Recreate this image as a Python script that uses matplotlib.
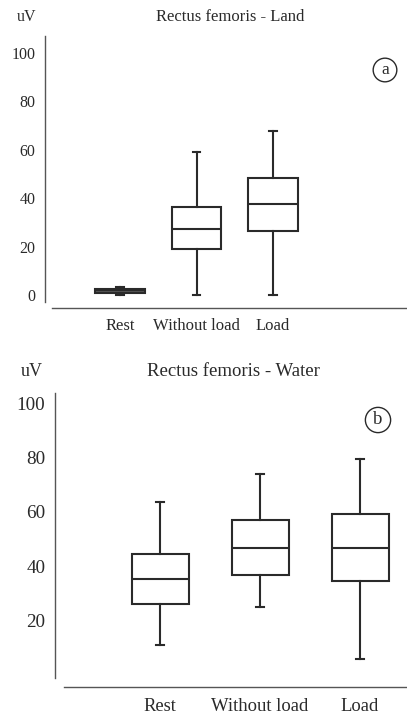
import matplotlib.pyplot as plt

plt.rcParams['font.family'] = ['Liberation Serif', 'DejaVu Serif']

groups = ["Rest", "Without load", "Load"]

# panel a - land
land_q1 = [0.8, 18.9, 26.6]
land_med = [2.0, 27.4, 37.6]
land_q3 = [2.6, 36.2, 48.5]
land_lo = [0.0, 0.0, 0.0]
land_hi = [3.4, 59.2, 67.6]

# panel b - water
water_q1 = [26.3, 36.6, 34.4]
water_med = [35.2, 46.8, 46.8]
water_q3 = [44.6, 57.1, 59.2]
water_lo = [11.1, 25.0, 5.9]
water_hi = [63.5, 74.1, 79.5]

yticks_a = [0, 20, 40, 60, 80, 100]
yticks_b = [20, 40, 60, 80, 100]

ink = "#2a2a2a"
axcol = "#555555"


def make_stats(q1, med, q3, lo, hi):
    out = []
    for i in range(len(groups)):
        out.append(dict(q1=q1[i], med=med[i], q3=q3[i], whislo=lo[i],
                        whishi=hi[i], fliers=[], label=groups[i]))
    return out


def panel(ax, stats, width, capw, ylim, ybounds, xlim, xstart, yticks, fs, fsx, padx, pady, fills):
    b = ax.bxp(stats, positions=[1, 2, 3], widths=width, capwidths=capw,
               showfliers=False, patch_artist=True,
               boxprops=dict(edgecolor=ink, linewidth=1.5),
               medianprops=dict(color=ink, linewidth=1.5),
               whiskerprops=dict(color=ink, linewidth=1.5),
               capprops=dict(color=ink, linewidth=1.5))
    for p, c in zip(b['boxes'], fills):
        p.set_facecolor(c)
    ax.set_xlim(*xlim)
    ax.set_ylim(*ylim)
    for s in ['top', 'right']:
        ax.spines[s].set_visible(False)
    ax.spines['left'].set_bounds(*ybounds)
    ax.spines['bottom'].set_bounds(xstart, xlim[1])
    for s in ['left', 'bottom']:
        ax.spines[s].set_color(axcol)
        ax.spines[s].set_linewidth(1.0)
    ax.set_yticks(yticks)
    ax.tick_params(axis='y', length=0, pad=pady, labelsize=fs, colors=ink)
    ax.tick_params(axis='x', length=0, pad=padx, labelsize=fsx, colors=ink)
    ax.set_xticks([1, 2, 3])
    ax.set_xticklabels(groups)
    ax.patch.set_alpha(0)


fig = plt.figure(figsize=(4.07, 7.16), dpi=100)

ax1 = fig.add_axes([45 / 407, (716 - 308) / 716, 362 / 407, 272 / 716])
panel(ax1, make_stats(land_q1, land_med, land_q3, land_lo, land_hi),
      0.65, 0.1, (-5.4, 107), (-2.9, 107), (0.02, 4.75), 0.11,
      yticks_a, 11.5, 12, 7.5, 7, ["#555555", "white", "white"])

ax2 = fig.add_axes([55 / 407, 29 / 716, 352 / 407, 294 / 716])
panel(ax2, make_stats(water_q1, water_med, water_q3, water_lo, water_hi),
      0.57, 0.08, (-4.4, 103.7), (-1.1, 103.7), (-0.05, 3.47), 0.04,
      yticks_b, 13.8, 13.4, 8, 7, ["white", "white", "white"])

fig.text(27 / 407, 1 - 17 / 716, "uV", ha='center', va='center', fontsize=11.5, color=ink)
fig.text(230 / 407, 1 - 17 / 716, "Rectus femoris - Land", ha='center', va='center',
         fontsize=12, color=ink)
fig.text(32 / 407, 1 - 372 / 716, "uV", ha='center', va='center', fontsize=13, color=ink)
fig.text(233 / 407, 1 - 372 / 716, "Rectus femoris - Water", ha='center', va='center',
         fontsize=13.5, color=ink)

circ = dict(boxstyle='circle,pad=0.22', facecolor='white', edgecolor=ink, linewidth=1.0)
fig.text(385 / 407, 1 - 70 / 716, "a", ha='center', va='center', fontsize=12.5,
         color=ink, bbox=circ)
fig.text(378 / 407, 1 - 420 / 716, "b", ha='center', va='center', fontsize=13.5,
         color=ink, bbox=circ)

fig.savefig("out.png", dpi=100, facecolor='white')
